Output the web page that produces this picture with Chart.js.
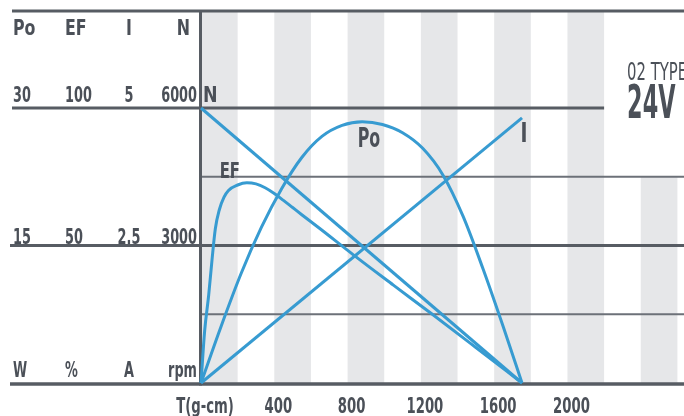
<!DOCTYPE html>
<html><head><meta charset="utf-8">
<script src="https://cdn.jsdelivr.net/npm/chart.js@4.4.1/dist/chart.umd.min.js"></script>
<style>html,body{margin:0;padding:0;background:#fff;overflow:hidden}#wrap{width:684px;height:416px;position:relative}</style>
</head><body><div id="wrap"><canvas id="c"></canvas></div>
<script>
// ---- data ----
const torqueTicks = [0, 400, 800, 1200, 1600, 2000];
const torqueTickLabels = ['T(g-cm)', '400', '800', '1200', '1600', '2000'];
const axisHeaders = ['Po', 'EF', 'I', 'N'];
const axisTopLabels = ['30', '100', '5', '6000'];
const axisMidLabels = ['15', '50', '2.5', '3000'];
const axisUnitLabels = ['W', '%', 'A', 'rpm'];
const axisFullScale = [30, 100, 5, 6000];

const speedTorque = [0, 1752];
const speedRpm = [6000, 0];
const currentTorque = [0, 1752];
const currentAmp = [0, 4.82];
const powerTorque = [0, 110, 220, 330, 440, 550, 660, 770, 880, 990, 1100, 1210, 1320, 1430, 1540, 1650, 1752];
const powerW = [0, 6.2, 12.0, 17.0, 21.2, 24.6, 26.9, 28.1, 28.5, 28.2, 27.3, 25.6, 22.7, 18.2, 12.4, 6.1, 0];
const effTorque = [0, 20, 42, 60, 78, 100, 125, 150, 200, 250, 300, 350, 400, 450, 500, 550, 650, 830, 1050, 1266, 1500, 1752];
const effPct = [0, 19, 32, 44.7, 56, 63, 67.5, 70, 72, 72.8, 72.4, 71.0, 68.9, 66.4, 63.8, 61.2, 56.1, 46.7, 35.6, 24.8, 12.9, 0];

const typeLabel = '02 TYPE';
const voltageLabel = '24V';

// ---- style ----
const BLUE = '#379bd1';
const INK = '#4b5058';
const LINE = '#575c63';
const THIN = '#6c7178';
const STRIPE = '#e6e7e9';
const FONT = "'DejaVu Sans Condensed','DejaVu Sans',sans-serif";
const TOP_RATIO = 372 / 275;   // plot top relative to full-scale line
const X_MAX = 2636;
const BOX_T = 2200;

function pts(xs, ys){ return xs.map((x,i)=>({x:x, y:ys[i]})); }

function txt(ctx, s, x, y, size, weight, align, sx){
  ctx.save();
  ctx.font = weight + ' ' + size + 'px ' + FONT;
  ctx.fillStyle = INK;
  ctx.textBaseline = 'alphabetic';
  ctx.textAlign = 'left';
  const w = ctx.measureText(s).width * sx;
  let x0 = x;
  if (align === 'right') x0 = x - w; else if (align === 'center') x0 = x - w/2;
  ctx.translate(x0, y);
  ctx.scale(sx, 1);
  ctx.fillText(s, 0, 0);
  ctx.restore();
}

const decor = {
  id: 'decor',
  beforeDatasetsDraw(chart){
    const {ctx, chartArea:a, scales} = chart;
    const x = scales.x, yN = scales.yN;
    ctx.save();
    ctx.fillStyle = STRIPE;
    for (let t = 0; t < X_MAX; t += 400){
      const x0 = x.getPixelForValue(t);
      const x1 = Math.min(x.getPixelForValue(t + 200), a.right);
      const top = (t >= BOX_T) ? yN.getPixelForValue(4500) : a.top;
      ctx.fillRect(x0, top, x1 - x0, a.bottom - top);
    }
    const hl = (y, x0, x1, w, c) => { ctx.beginPath(); ctx.lineWidth = w; ctx.strokeStyle = c; ctx.moveTo(x0, y); ctx.lineTo(x1, y); ctx.stroke(); };
    hl(a.top, 12, a.right, 3, LINE);
    hl(yN.getPixelForValue(6000), 12, x.getPixelForValue(BOX_T), 3, LINE);
    hl(yN.getPixelForValue(4500), a.left, a.right, 2, THIN);
    hl(yN.getPixelForValue(3000), 10, a.right, 3, LINE);
    hl(yN.getPixelForValue(1500), a.left, a.right, 2, THIN);
    hl(yN.getPixelForValue(0) + 1, 10, a.right, 3.5, LINE);
    ctx.beginPath(); ctx.lineWidth = 3; ctx.strokeStyle = LINE;
    ctx.moveTo(a.left - 0.5, a.top); ctx.lineTo(a.left - 0.5, a.bottom + 2.5); ctx.stroke();
    ctx.restore();

    // left axis labels (four value columns)
    const colX = [13, 65, 129, a.left - 4];
    const aligns = ['left', 'left', 'center', 'right'];
    const yTop = yN.getPixelForValue(6000) - 6;
    const yMid = yN.getPixelForValue(3000) - 2;
    const yUnit = yN.getPixelForValue(0) - 6;
    for (let i = 0; i < 4; i++){
      const hx = i === 3 ? a.left - 11 : colX[i];
      txt(ctx, axisHeaders[i], hx, a.top + 24, 22, 'bold', aligns[i], 0.8);
      txt(ctx, axisTopLabels[i], colX[i], yTop, 21, 'bold', aligns[i], 0.68);
      txt(ctx, axisMidLabels[i], colX[i], yMid, 21, 'bold', aligns[i], 0.68);
      txt(ctx, axisUnitLabels[i], colX[i], yUnit, 21, 'bold', aligns[i], 0.68);
    }
    // torque tick labels from the x scale
    x.ticks.forEach(t => {
      const i = torqueTicks.indexOf(t.value);
      if (i < 0) return;
      txt(ctx, torqueTickLabels[i], x.getPixelForValue(t.value) + 4, a.bottom + 30, 21, 'bold', 'center', 0.7);
    });
  },
  afterDatasetsDraw(chart){
    const {ctx, scales} = chart;
    const x = scales.x;
    txt(ctx, 'N', x.getPixelForValue(0) + 2, scales.yN.getPixelForValue(6000) - 6, 22, 'bold', 'left', 0.88);
    txt(ctx, 'Po', x.getPixelForValue(884) + 6, scales.yPo.getPixelForValue(28.5) + 25, 26, 'bold', 'center', 0.68);
    txt(ctx, 'EF', x.getPixelForValue(250) - 17, scales.yEF.getPixelForValue(72.8) - 5, 22, 'bold', 'center', 0.75);
    txt(ctx, 'I', x.getPixelForValue(1752) + 2, scales.yI.getPixelForValue(4.82) + 24, 26, 'bold', 'center', 0.8);
    const bx = x.getPixelForValue(BOX_T) + 23;
    txt(ctx, typeLabel, bx, 80, 25, 'normal', 'left', 0.66);
    txt(ctx, voltageLabel, bx, 118, 46, 'bold', 'left', 0.54);
  }
};

const yAxis = (max) => ({ type:'linear', display:false, min:0, max:max });

new Chart(document.getElementById('c'), {
  type: 'scatter',
  data: {
    datasets: [
      { label:'N', data: pts(speedTorque, speedRpm), yAxisID:'yN' },
      { label:'I', data: pts(currentTorque, currentAmp), yAxisID:'yI' },
      { label:'Po', data: pts(powerTorque, powerW), yAxisID:'yPo', cubicInterpolationMode:'monotone' },
      { label:'EF', data: pts(effTorque, effPct), yAxisID:'yEF', cubicInterpolationMode:'monotone' }
    ].map(d => Object.assign({ showLine:true, borderColor:BLUE, borderWidth:3, pointRadius:0, fill:false, clip:false }, d))
  },
  options: {
    responsive:true, maintainAspectRatio:false, animation:false, devicePixelRatio:1,
    layout:{ padding:{ left:201, top:11, right:0, bottom:33 } },
    plugins:{ legend:{display:false}, tooltip:{enabled:false} },
    scales:{
      x:{ type:'linear', display:false, min:0, max:X_MAX,
          afterBuildTicks(s){ s.ticks = torqueTicks.map(v => ({value:v})); } },
      yN: yAxis(axisFullScale[3] * TOP_RATIO),
      yPo: yAxis(axisFullScale[0] * TOP_RATIO),
      yEF: yAxis(axisFullScale[1] * TOP_RATIO),
      yI: yAxis(axisFullScale[2] * TOP_RATIO)
    }
  },
  plugins:[decor]
});
</script></body></html>
